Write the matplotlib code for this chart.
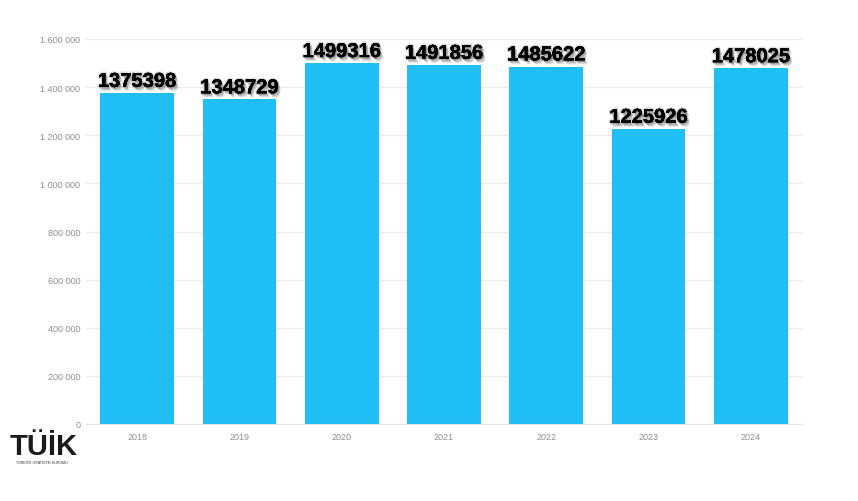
import matplotlib
matplotlib.use("Agg")
import matplotlib.pyplot as plt
import matplotlib.patheffects as pe
from matplotlib.ticker import FuncFormatter, MultipleLocator

years = ["2018", "2019", "2020", "2021", "2022", "2023", "2024"]
values = [1375398, 1348729, 1499316, 1491856, 1485622, 1225926, 1478025]

fig = plt.figure(figsize=(8.58, 5.02), dpi=100)
ax = fig.add_axes([86/858, 1-425/502, (802-86)/858, (425-40)/502])

x = range(len(years))
ax.bar(x, values, width=0.72, color="#1fbff5", zorder=2)
ax.set_xlim(-0.5, len(years)-0.5)
ax.set_ylim(0, 1600000)
ax.yaxis.set_major_locator(MultipleLocator(200000))
ax.yaxis.set_major_formatter(FuncFormatter(lambda v, p: f"{int(v):,}".replace(",", " ")))
ax.set_xticks(list(x))
ax.set_xticklabels(years)
ax.grid(axis="y", color="#ebebeb", linewidth=0.8, zorder=0)
for s in ax.spines.values():
    s.set_visible(False)
ax.spines["bottom"].set_visible(True)
ax.spines["bottom"].set_color("#e0e0e0")
ax.tick_params(axis="both", length=0, colors="#8f8f8f", labelsize=6.5)
ax.tick_params(axis="y", pad=4)
ax.tick_params(axis="x", pad=6)
for lab in ax.get_xticklabels() + ax.get_yticklabels():
    lab.set_family("Liberation Sans")

shadow = []
for d, a in [(3.0, 0.10), (2.4, 0.14), (1.8, 0.18), (1.2, 0.22)]:
    shadow.append(pe.withSimplePatchShadow(offset=(d * 0.7, -d), shadow_rgbFace="#444444", alpha=a))
shadow.append(pe.withStroke(linewidth=2.2, foreground="#777777", alpha=0.25))
shadow.append(pe.Normal())
for xi, v in zip(x, values):
    ax.text(xi, v + 9000, str(v), ha="center", va="bottom", fontsize=14.5,
            fontweight="bold", family="Liberation Sans", color="black",
            path_effects=shadow, clip_on=False, zorder=5)

# TÜİK logo approximation
fig.text(10/858, 1-455/502, "TÜİK", fontsize=21, fontweight="heavy",
         family="Liberation Sans", color="#1a1a1a", ha="left", va="baseline")
fig.text(16/858, 1-464/502, "TÜRKİYE İSTATİSTİK KURUMU", fontsize=2.6,
         family="Liberation Sans", color="#333333", ha="left", va="baseline")

fig.savefig("out.png", dpi=100)
